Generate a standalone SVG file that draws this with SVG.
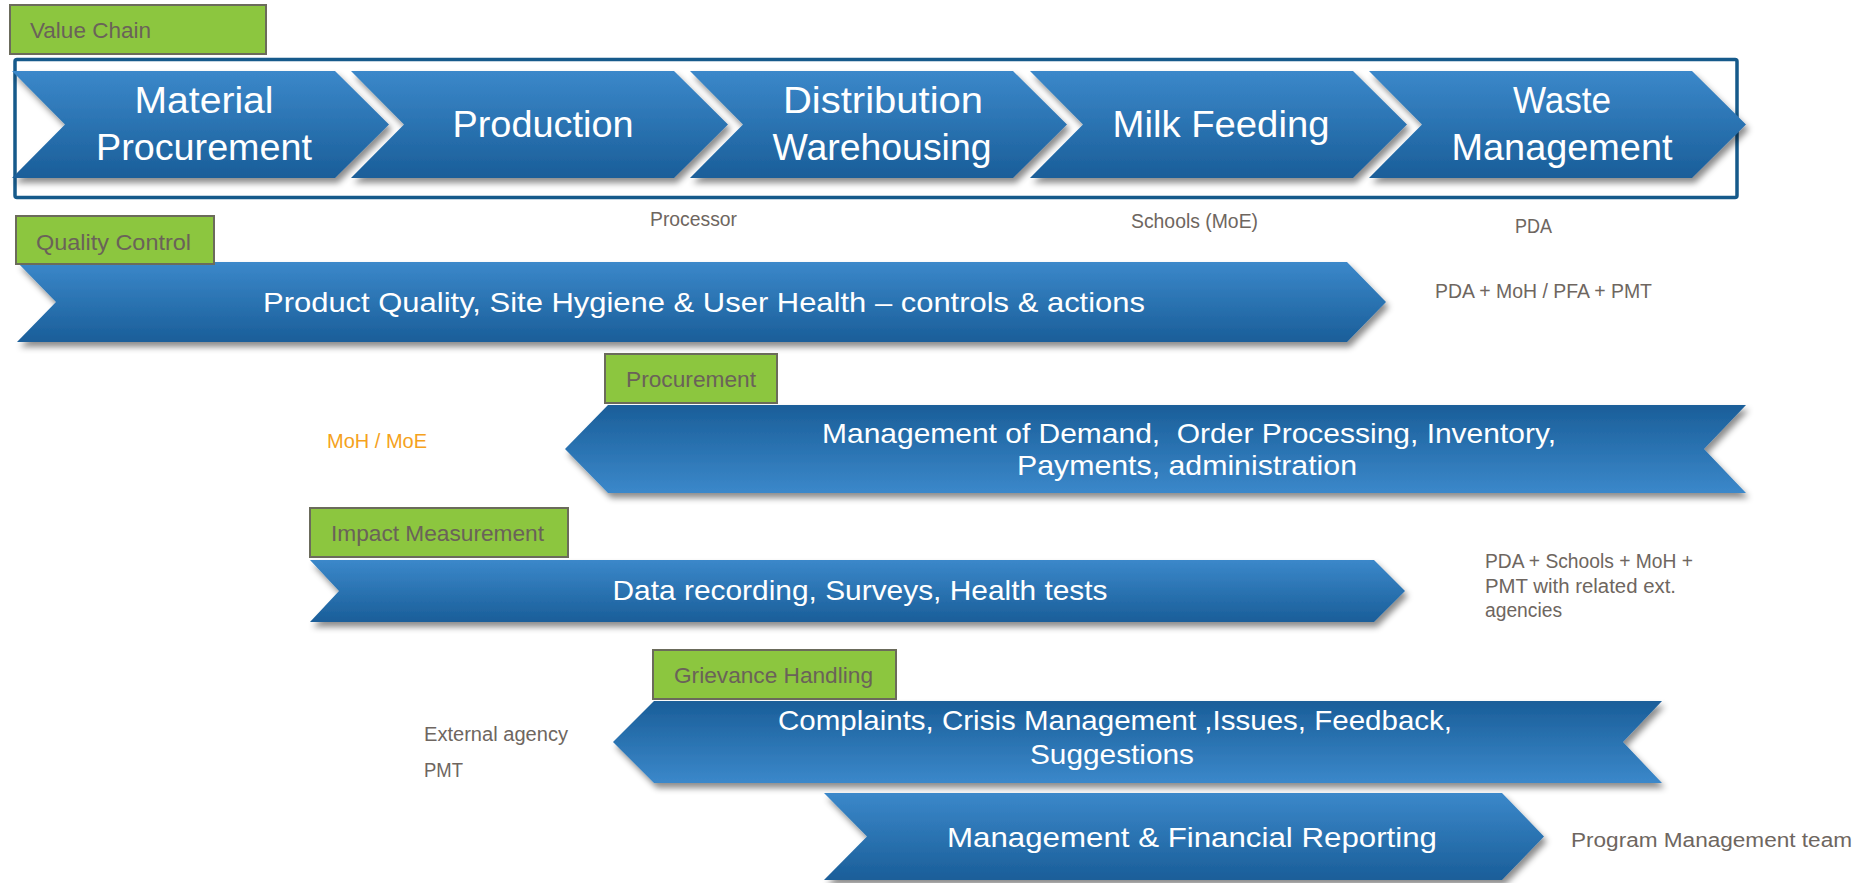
<svg xmlns="http://www.w3.org/2000/svg" width="1865" height="883" viewBox="0 0 1865 883">
  <defs>
    <linearGradient id="gDown" x1="0" y1="0" x2="0" y2="1">
      <stop offset="0" stop-color="#3b88ca"/>
      <stop offset="1" stop-color="#1a5e99"/>
    </linearGradient>
    <linearGradient id="gUp" x1="0" y1="0" x2="0" y2="1">
      <stop offset="0" stop-color="#1a5e99"/>
      <stop offset="1" stop-color="#3b88ca"/>
    </linearGradient>
    <filter id="shadow" x="-5%" y="-20%" width="110%" height="150%">
      <feDropShadow dx="3" dy="5" stdDeviation="3" flood-color="#000" flood-opacity="0.45"/>
    </filter>
  </defs>
  <style>
    .arrowR { fill: url(#gDown); filter: url(#shadow); }
    .arrowL { fill: url(#gUp); filter: url(#shadow); }
    .big { font-family: "Liberation Sans", Arial, sans-serif; font-size: 37px; fill: #ffffff; text-anchor: middle; }
    .mid { font-family: "Liberation Sans", Arial, sans-serif; font-size: 28px; fill: #ffffff; text-anchor: middle; white-space: pre; }
    .tag rect { fill: #8cc63f; stroke: #6b6b5b; stroke-width: 2; }
    .tag text { font-family: "Liberation Sans", Arial, sans-serif; font-size: 22px; fill: #6a6259; }
    .lbl { font-family: "Liberation Sans", Arial, sans-serif; font-size: 20px; fill: #6e6660; }
    .orange { fill: #f5a21c; }
    .frame { fill: none; stroke: #165a8b; stroke-width: 3.5; }
  </style>
  <rect width="1865" height="883" fill="#ffffff"/>

  <g id="value-chain">
    <g id="tag-value-chain" class="tag">
      <rect x="10" y="5" width="256" height="49"/>
      <text x="30" y="38" textLength="121" lengthAdjust="spacingAndGlyphs">Value Chain</text>
    </g>
    <rect id="value-chain-frame" class="frame" x="15" y="59.5" width="1722" height="138" rx="2"/>
    <g id="material-procurement">
      <path class="arrowR" d="M12,71 H335 L389,124.5 L335,178 H12 L65,124.5 Z"/>
      <text class="big" x="204" y="113" textLength="139" lengthAdjust="spacingAndGlyphs">Material</text>
      <text class="big" x="204" y="160" textLength="216" lengthAdjust="spacingAndGlyphs">Procurement</text>
    </g>
    <g id="production">
      <path class="arrowR" d="M351,71 H674 L728,124.5 L674,178 H351 L404,124.5 Z"/>
      <text class="big" x="543" y="137" textLength="181" lengthAdjust="spacingAndGlyphs">Production</text>
    </g>
    <g id="distribution-warehousing">
      <path class="arrowR" d="M690,71 H1013 L1067,124.5 L1013,178 H690 L743,124.5 Z"/>
      <text class="big" x="883" y="113" textLength="200" lengthAdjust="spacingAndGlyphs">Distribution</text>
      <text class="big" x="882" y="160" textLength="219" lengthAdjust="spacingAndGlyphs">Warehousing</text>
    </g>
    <g id="milk-feeding">
      <path class="arrowR" d="M1030,71 H1353 L1407,124.5 L1353,178 H1030 L1083,124.5 Z"/>
      <text class="big" x="1221" y="137" textLength="217" lengthAdjust="spacingAndGlyphs">Milk Feeding</text>
    </g>
    <g id="waste-management">
      <path class="arrowR" d="M1369,71 H1692 L1746,124.5 L1692,178 H1369 L1422,124.5 Z"/>
      <text class="big" x="1562" y="113" textLength="98" lengthAdjust="spacingAndGlyphs">Waste</text>
      <text class="big" x="1562" y="160" textLength="221" lengthAdjust="spacingAndGlyphs">Management</text>
    </g>
    <text id="lbl-processor" class="lbl" x="650" y="226" textLength="87" lengthAdjust="spacingAndGlyphs">Processor</text>
    <text id="lbl-schools" class="lbl" x="1131" y="228" textLength="127" lengthAdjust="spacingAndGlyphs">Schools (MoE)</text>
    <text id="lbl-pda" class="lbl" x="1515" y="233" textLength="37" lengthAdjust="spacingAndGlyphs">PDA</text>
  </g>

  <g id="quality-control">
    <path class="arrowR" d="M17,262 H1347 L1386,302 L1347,342 H17 L56,302 Z"/>
    <text class="mid" x="704" y="312" textLength="882" lengthAdjust="spacingAndGlyphs">Product Quality, Site Hygiene &amp; User Health – controls &amp; actions</text>
    <g id="tag-quality-control" class="tag">
      <rect x="16" y="216" width="198" height="48"/>
      <text x="36" y="250" textLength="155" lengthAdjust="spacingAndGlyphs">Quality Control</text>
    </g>
    <text class="lbl" x="1435" y="298" textLength="217" lengthAdjust="spacingAndGlyphs">PDA + MoH / PFA + PMT</text>
  </g>

  <g id="procurement">
    <path class="arrowL" d="M608,405 H1746 L1704,449 L1746,493 H608 L565,449 Z"/>
    <text class="mid" x="1189" y="443" textLength="734" lengthAdjust="spacingAndGlyphs" xml:space="preserve">Management of Demand,  Order Processing, Inventory,</text>
    <text class="mid" x="1187" y="475" textLength="340" lengthAdjust="spacingAndGlyphs">Payments, administration</text>
    <g id="tag-procurement" class="tag">
      <rect x="605" y="354" width="172" height="49"/>
      <text x="626" y="387" textLength="130" lengthAdjust="spacingAndGlyphs">Procurement</text>
    </g>
    <text class="lbl orange" x="327" y="448" textLength="100" lengthAdjust="spacingAndGlyphs">MoH / MoE</text>
  </g>

  <g id="impact-measurement">
    <path class="arrowR" d="M310,560 H1374 L1405,591 L1374,622 H310 L339,591 Z"/>
    <text class="mid" x="860" y="600" textLength="495" lengthAdjust="spacingAndGlyphs">Data recording, Surveys, Health tests</text>
    <g id="tag-impact-measurement" class="tag">
      <rect x="310" y="508" width="258" height="49"/>
      <text x="331" y="541" textLength="213" lengthAdjust="spacingAndGlyphs">Impact Measurement</text>
    </g>
    <text class="lbl" x="1485" y="568" textLength="208" lengthAdjust="spacingAndGlyphs">PDA + Schools + MoH +</text>
    <text class="lbl" x="1485" y="593" textLength="191" lengthAdjust="spacingAndGlyphs">PMT with related ext.</text>
    <text class="lbl" x="1485" y="617" textLength="77" lengthAdjust="spacingAndGlyphs">agencies</text>
  </g>

  <g id="grievance-handling">
    <path class="arrowL" d="M654,701 H1662 L1623,742 L1662,783 H654 L613,742 Z"/>
    <text class="mid" x="1115" y="730" textLength="674" lengthAdjust="spacingAndGlyphs">Complaints, Crisis Management ,Issues, Feedback,</text>
    <text class="mid" x="1112" y="764" textLength="164" lengthAdjust="spacingAndGlyphs">Suggestions</text>
    <g id="tag-grievance-handling" class="tag">
      <rect x="653" y="650" width="243" height="49"/>
      <text x="674" y="683" textLength="199" lengthAdjust="spacingAndGlyphs">Grievance Handling</text>
    </g>
    <text class="lbl" x="424" y="741" textLength="144" lengthAdjust="spacingAndGlyphs">External agency</text>
    <text class="lbl" x="424" y="777" font-size="21" textLength="39" lengthAdjust="spacingAndGlyphs">PMT</text>
  </g>

  <g id="management-reporting">
    <path class="arrowR" d="M824,793 H1502 L1544,836.5 L1502,880 H824 L867,836.5 Z"/>
    <text class="mid" x="1192" y="847" textLength="490" lengthAdjust="spacingAndGlyphs">Management &amp; Financial Reporting</text>
    <text class="lbl" x="1571" y="847" font-size="21" textLength="281" lengthAdjust="spacingAndGlyphs">Program Management team</text>
  </g>

  <g id="connectors"/>
</svg>
